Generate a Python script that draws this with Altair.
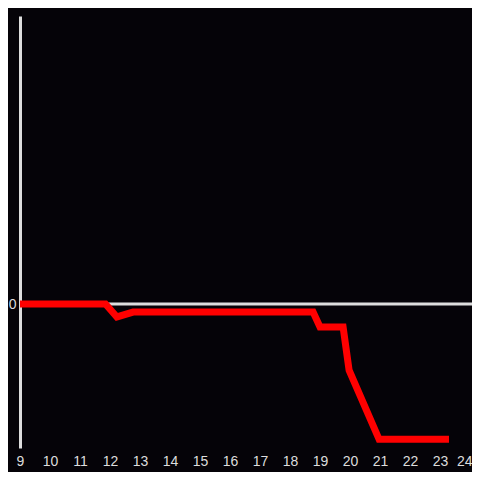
import altair as alt
import pandas as pd

hours = [9.0, 11.85, 12.23, 12.77, 18.77, 19.0, 19.77, 19.97, 20.97, 23.3]
values = [0.0, 0.0, -0.09, -0.056, -0.056, -0.16, -0.16, -0.46, -0.94, -0.94]
x_ticks = list(range(9, 25))

df = pd.DataFrame({"hour": hours, "value": values})
zero = pd.DataFrame({"y": [0]})

xs = alt.Scale(domain=[9, 24.067], nice=False, zero=False)
ys = alt.Scale(domain=[-1, 2], nice=False, zero=False)

rule = alt.Chart(zero).mark_rule(color="#dddddd", strokeWidth=3).encode(
    y=alt.Y("y:Q", scale=ys)
)

line = alt.Chart(df).mark_line(color="#ff0000", strokeWidth=7, clip=False).encode(
    x=alt.X("hour:Q", scale=xs, title=None,
            axis=alt.Axis(values=x_ticks, domain=False, ticks=False, grid=False,
                          labelColor="#dddddd", labelFontSize=14, labelPadding=6,
                          labelFont="Liberation Sans", labelFlush=False,
                          labelAlign={"condition": {"test": "datum.value == 24", "value": "right"},
                                      "value": "center"},
                          labelOffset={"condition": {"test": "datum.value == 24", "value": 2},
                                       "value": 0})),
    y=alt.Y("value:Q", scale=ys, title=None,
            axis=alt.Axis(values=[0], domain=True, domainColor="#dddddd", domainWidth=3,
                          ticks=False, tickSize=0, grid=False, labelColor="#dddddd",
                          labelFontSize=14, labelPadding=4, labelFont="Liberation Sans")),
)

chart = (rule + line).properties(
    width=452, height=432,
    background="#050308",
    padding={"left": 12, "top": 8, "right": 0, "bottom": 24},
    autosize=alt.AutoSizeParams(type="none"),
).configure_view(stroke=None)

chart.save("out.html", embed_options={"renderer": "svg", "actions": False})
